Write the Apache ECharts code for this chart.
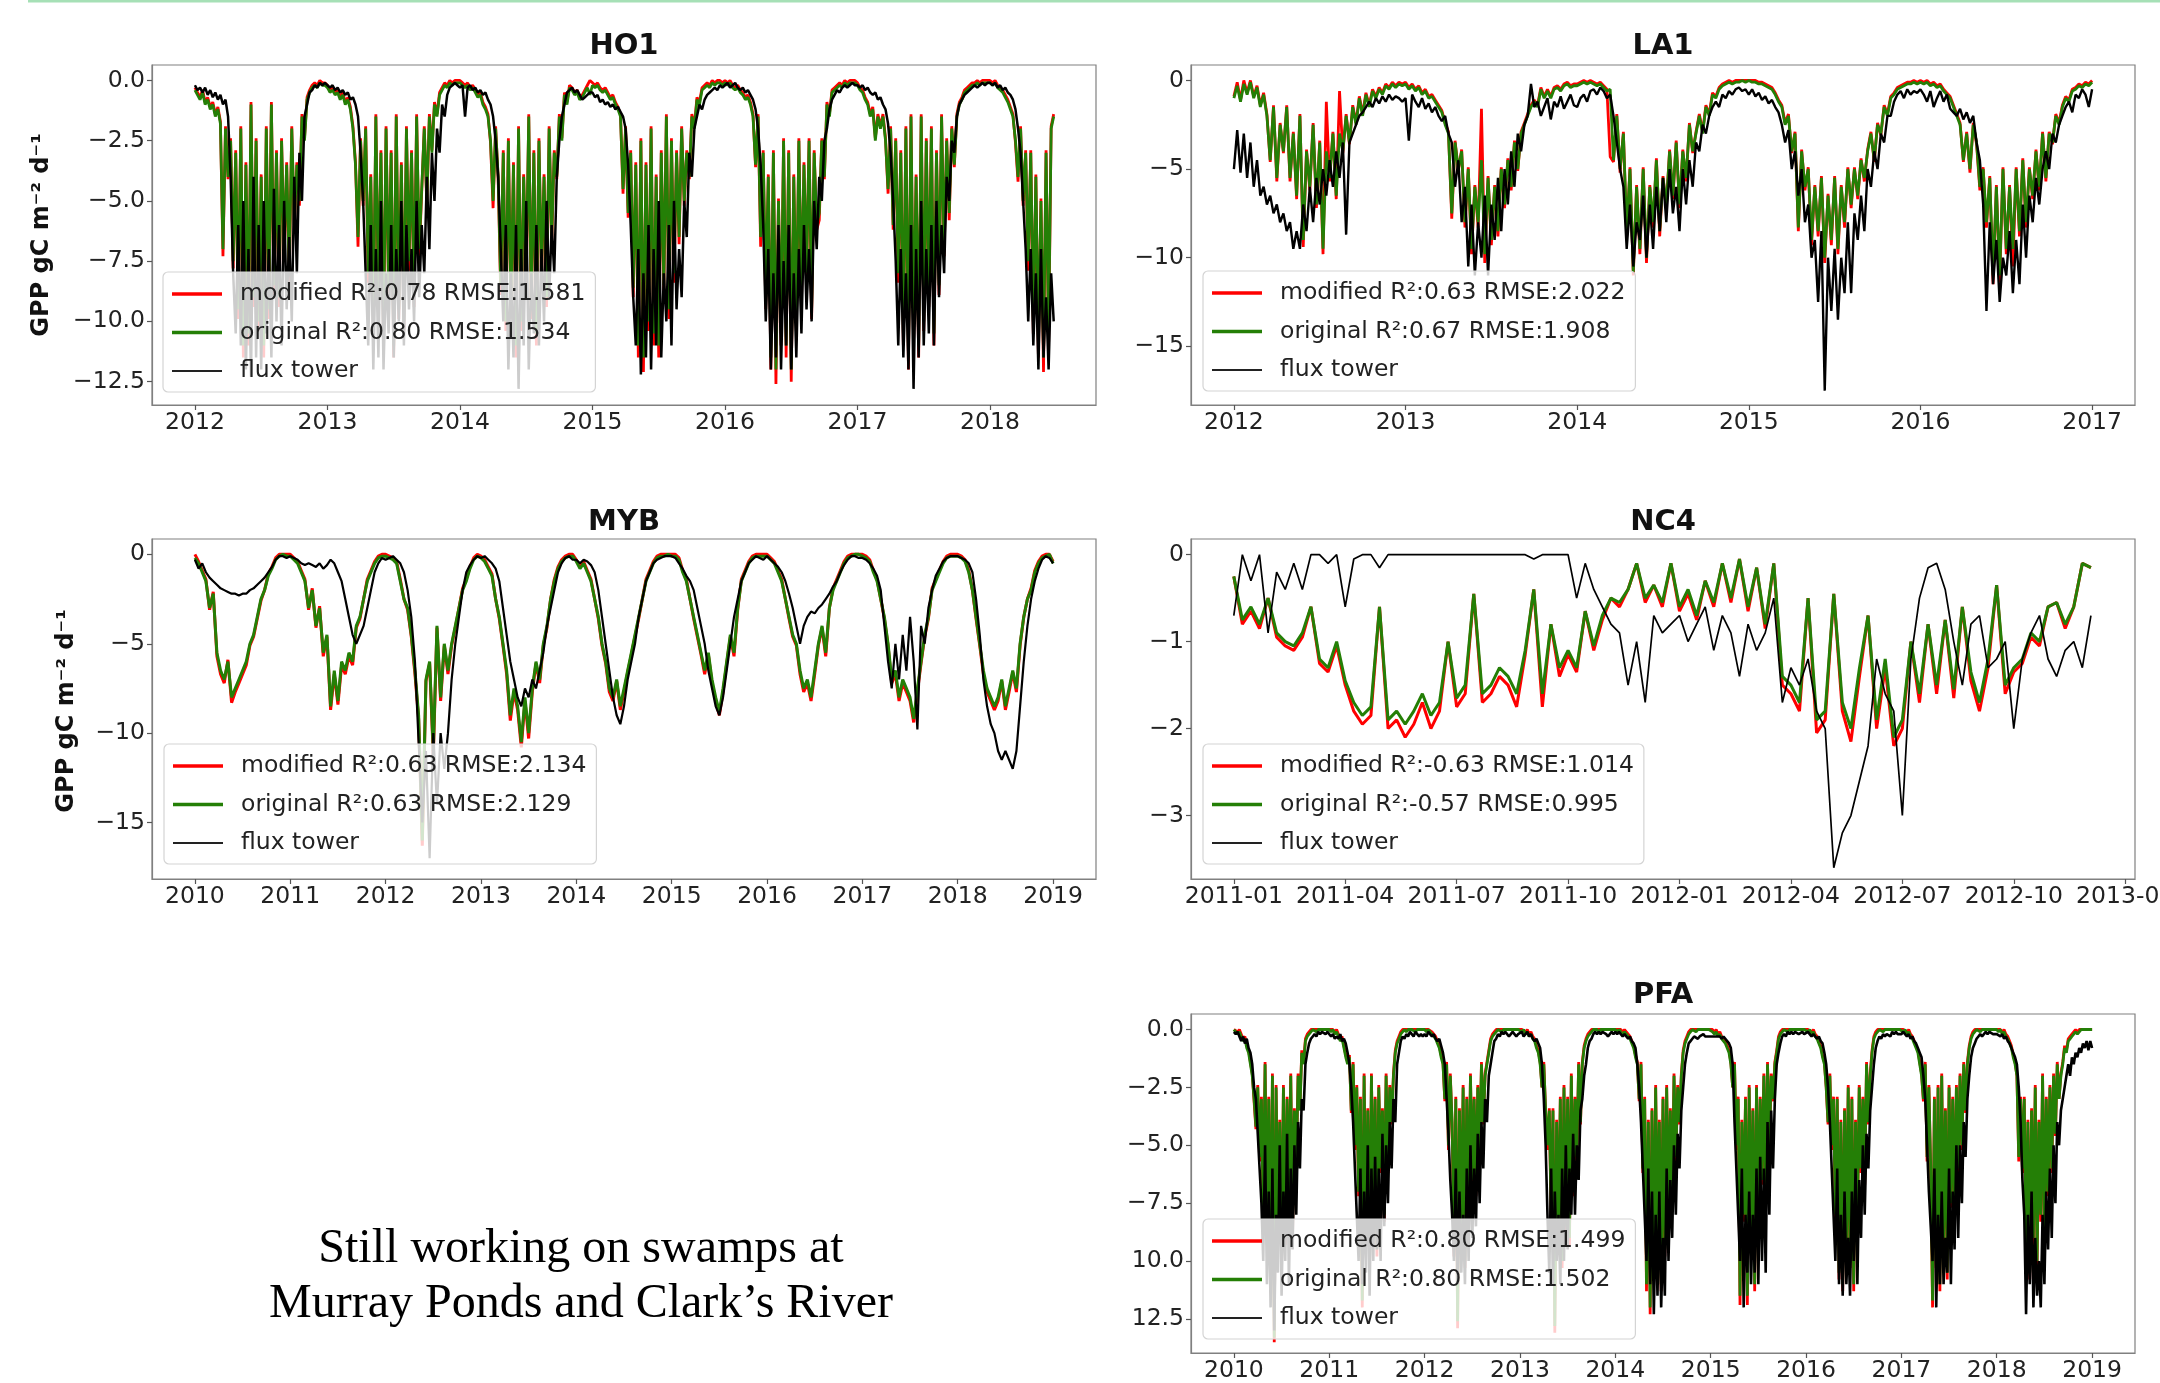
<!DOCTYPE html>
<html>
<head>
<meta charset="utf-8">
<script src="https://cdn.jsdelivr.net/npm/echarts@6/dist/echarts.min.js"></script>
<style>
html,body{margin:0;padding:0;background:#ffffff;}
#chart{width:2160px;height:1383px;}
</style>
</head>
<body>
<div id="chart"></div>
<script>
// ---------------- DATA ----------------
// HO1, LA1, PFA: 52 samples / year (weekly). MYB: 26 / year. NC4: 52 / year.

// ---- HO1 (start 2012.0) ----
const HO1_start = 2012, HO1_perYear = 52;
const HO1_flux = [
 -0.2,-0.4,-0.3,-0.5,-0.3,-0.6,-0.4,-0.7,-0.5,-0.8,-0.6,-1,-0.8,-1.5,-4,-8,-10.5,-6,-11,-5,-12,-7,-12.3,-4,-11.5,-6,-12,-5,-10.5,-7,-11.5,-4.5,-10,-6,-11,-5,-9.5,-6.5,-10,-4,-8,-3,-5,-1.5,-1,-0.5,-0.4,-0.2,-0.3,-0.1,-0.2,-0.1,
 -0.2,-0.3,-0.2,-0.4,-0.3,-0.5,-0.4,-0.6,-0.5,-0.8,-0.7,-1,-1.5,-3,-5,-8,-11,-6,-12,-7,-11.5,-5,-12,-8,-10.5,-6,-11.5,-7,-10,-5,-11,-6,-9.5,-7,-10,-5,-9,-6,-8,-4,-7,-3,-5,-2,-3,-1,-1.5,-0.6,-0.3,-0.2,-0.1,-0.2,
 -0.3,-0.2,-1.5,-0.3,-0.2,-0.4,-0.3,-0.5,-0.4,-0.6,-0.5,-0.8,-1,-1.5,-2.5,-4,-7,-10,-6,-12,-8,-11.5,-6,-12.8,-7,-11,-5,-12,-8,-10.5,-6,-11,-7,-10,-5,-9,-6,-8,-4,-2.5,-1.5,-1,-0.5,-0.4,-0.3,-0.5,-0.4,-0.6,-0.8,-0.7,-0.6,-0.5,
 -0.5,-0.7,-0.6,-0.9,-0.8,-1,-0.9,-1.1,-1,-1.2,-1.1,-1.3,-1.5,-2,-3.5,-6,-9,-11,-7,-12.2,-8,-11.5,-6,-12,-7,-11,-5,-11.5,-8,-10,-6,-11,-5,-9.5,-7,-9,-5,-6.5,-3,-4,-2,-1.5,-1,-1.2,-0.8,-0.6,-0.5,-0.4,-0.3,-0.4,-0.2,-0.3,
 -0.2,-0.1,-0.3,-0.2,-0.1,-0.3,-0.4,-0.3,-0.5,-0.4,-0.6,-0.8,-1.2,-2,-3.5,-6,-10,-7,-12,-8,-11.5,-6,-12,-7.5,-11,-6,-12,-8,-11.5,-7,-10.5,-6,-9.5,-7,-10,-5,-7,-4,-5,-2.5,-2,-1.2,-0.8,-0.6,-0.4,-0.5,-0.3,-0.2,-0.3,-0.2,-0.1,-0.2,
 -0.2,-0.3,-0.2,-0.4,-0.3,-0.5,-0.6,-0.5,-0.8,-0.7,-1,-1.2,-1.8,-3,-5,-7.5,-11,-7,-11.5,-8,-12,-6,-12.8,-7,-11.5,-5,-11,-7,-10.5,-6,-11,-5,-9,-6,-8,-4,-5,-2.5,-3,-1.5,-1,-0.8,-0.6,-0.5,-0.4,-0.3,-0.2,-0.3,-0.2,-0.1,-0.2,-0.1,
 -0.1,-0.2,-0.1,-0.3,-0.2,-0.4,-0.3,-0.5,-0.6,-0.8,-1.2,-2,-3,-5,-7,-10,-7,-11,-8,-12,-7,-11.5,-9,-12,-8,-10
];
const HO1_orig = [
 -0.4,-0.6,-0.8,-0.5,-1,-0.8,-1.2,-1,-1.5,-1.2,-1.8,-7,-2,-4,-2.5,-7.5,-3,-9.5,-2,-11,-3.5,-10.5,-1,-9,-2.5,-10,-4,-11,-2,-9.5,-1,-8.5,-3,-9,-2.5,-7,-3.5,-8,-2,-6,-3.5,-5,-1.5,-2.5,-0.8,-0.5,-0.3,-0.2,-0.3,-0.1,-0.2,-0.2,
 -0.3,-0.5,-0.4,-0.6,-0.5,-0.8,-0.6,-1,-0.8,-1.2,-2,-3.5,-6.5,-2.5,-5,-2,-8,-4,-10,-1.5,-9,-3,-10.5,-2,-8.5,-3,-11,-1.5,-9.5,-3.5,-10,-2,-7.5,-3,-9,-1.5,-7,-4.5,-2,-5,-1.5,-3,-1,-1.5,-0.6,-0.4,-0.2,-0.3,-0.1,-0.2,-0.1,-0.1,
 -0.1,-0.2,-0.3,-0.2,-0.4,-0.3,-0.5,-0.7,-0.6,-1,-1.2,-1.5,-2.5,-5,-2,-4,-8.5,-3,-10,-2.5,-9.5,-3.5,-11,-2,-10,-4,-8,-1.5,-9.5,-3,-10.5,-2.5,-8,-4,-9,-2,-6.5,-3,-4,-1.5,-2.5,-0.6,-1,-0.3,-0.4,-0.6,-0.5,-0.8,-0.7,-0.5,-0.3,-0.6,
 -0.2,-0.3,-0.2,-0.4,-0.5,-0.4,-0.6,-0.8,-0.7,-1,-1.2,-1.5,-4.5,-2,-5.5,-3,-8.6,-3.5,-11,-2.5,-11.5,-3.5,-10,-2,-10.5,-4,-11,-3,-8.5,-1.5,-9.5,-2.5,-8,-3,-6.5,-2,-5,-3,-4,-1.5,-2,-0.8,-1,-0.4,-0.3,-0.2,-0.3,-0.1,-0.2,-0.1,-0.1,-0.2,
 -0.1,-0.2,-0.1,-0.3,-0.4,-0.3,-0.5,-0.6,-0.8,-0.7,-1,-1.5,-3.5,-1.5,-6.5,-3,-9,-4,-11.5,-3,-12,-5,-10.5,-2.5,-11,-3,-12,-4,-10,-2.5,-9,-3.5,-8,-2.5,-9.5,-3,-6,-5.5,-2.5,-4,-1,-1.5,-0.5,-0.4,-0.3,-0.2,-0.3,-0.1,-0.2,-0.1,-0.1,-0.1,
 -0.2,-0.4,-0.5,-0.8,-1,-1.5,-1.2,-2.5,-1.5,-2,-1.5,-2.5,-4.5,-2,-6,-2.5,-8,-3,-10.5,-2,-11.5,-1.5,-10.5,-4,-11,-1.5,-10,-2.5,-9,-2,-10.5,-3,-8.5,-1.5,-7,-2.5,-5.5,-2,-3.5,-1.5,-1,-0.8,-0.5,-0.4,-0.3,-0.2,-0.2,-0.1,-0.2,-0.1,-0.1,-0.1,
 -0.1,-0.2,-0.1,-0.3,-0.4,-0.5,-0.7,-0.9,-1.2,-1.5,-2.5,-4,-2,-5,-3,-7.5,-3,-10,-4,-11,-5,-11.5,-3,-10.5,-2,-1.5
];
const HO1_mod = [
 -0.3,-0.5,-0.7,-0.4,-0.9,-0.7,-1.1,-0.9,-1.4,-1.1,-1.7,-7.3,-1.9,-4.1,-2.4,-7.8,-2.9,-9.9,-1.9,-11.5,-3.4,-11,-0.9,-9.4,-2.4,-10.4,-3.9,-11.5,-1.9,-9.9,-0.9,-8.9,-2.9,-9.4,-2.4,-7.4,-3.4,-8.4,-1.9,-6.2,-3.4,-5.2,-1.4,-2.4,-0.7,-0.4,-0.2,-0.1,-0.2,0,-0.1,-0.1,
 -0.2,-0.4,-0.3,-0.5,-0.4,-0.7,-0.5,-0.9,-0.7,-1.1,-1.9,-3.4,-6.9,-2.4,-5.2,-1.9,-8.4,-3.9,-10.4,-1.4,-9.4,-2.9,-11,-1.9,-8.9,-2.9,-11.5,-1.4,-9.9,-3.4,-10.4,-1.9,-7.9,-2.9,-9.4,-1.4,-7.3,-4.6,-1.9,-5.2,-1.4,-2.9,-0.9,-1.4,-0.5,-0.3,-0.1,-0.2,0,-0.1,0,0,
 0,-0.1,-0.2,-0.1,-0.3,-0.2,-0.4,-0.6,-0.5,-0.9,-1.1,-1.4,-2.6,-5.3,-1.9,-4.1,-8.9,-2.9,-10.4,-2.4,-9.9,-3.4,-11.5,-1.9,-10.4,-3.9,-8.4,-1.4,-9.9,-2.9,-11,-2.4,-8.4,-3.9,-9.4,-1.9,-6.8,-2.9,-4.1,-1.4,-2.4,-0.5,-0.9,-0.2,-0.3,-0.5,-0.4,-0.7,-0.6,-0.4,-0.2,0,
 -0.1,-0.2,-0.1,-0.3,-0.4,-0.3,-0.5,-0.7,-0.6,-0.9,-1.1,-1.4,-4.7,-1.9,-5.7,-2.9,-9,-3.4,-11.5,-2.4,-12.1,-3.4,-10.4,-1.9,-11,-3.9,-11.5,-2.9,-8.9,-1.4,-9.9,-2.4,-8.4,-2.9,-6.8,-1.9,-5.2,-2.9,-4.1,-1.4,-1.9,-0.7,-0.9,-0.3,-0.2,-0.1,-0.2,0,-0.1,0,0,-0.1,
 0,-0.1,0,-0.2,-0.3,-0.2,-0.4,-0.5,-0.7,-0.6,-0.9,-1.4,-3.6,-1.4,-6.9,-2.9,-9.5,-3.9,-12,-2.9,-12.6,-4.9,-11,-2.4,-11.5,-2.9,-12.5,-3.9,-10.4,-2.4,-9.4,-3.4,-8.4,-2.4,-9.9,-2.9,-6.2,-5.8,-2.4,-4.1,-0.9,-1.4,-0.4,-0.3,-0.2,-0.1,-0.2,0,-0.1,0,0,0,
 -0.1,-0.3,-0.4,-0.7,-0.9,-1.4,-1.1,-2.4,-1.4,-1.9,-1.4,-2.4,-4.7,-1.9,-6.2,-2.4,-8.4,-2.9,-11,-1.9,-12,-1.4,-11,-3.9,-11.5,-1.4,-10.4,-2.4,-9.4,-1.9,-11,-2.9,-8.9,-1.4,-7.3,-2.4,-5.8,-1.9,-3.6,-1.4,-0.9,-0.7,-0.4,-0.3,-0.2,-0.1,-0.1,0,-0.1,0,0,0,
 0,-0.1,0,-0.2,-0.3,-0.4,-0.6,-0.8,-1.1,-1.4,-2.6,-4.2,-1.9,-5.2,-2.9,-7.9,-2.9,-10.5,-3.9,-11.5,-4.9,-12.1,-2.9,-11,-1.9,-1.4
];
const HO1_xTicks = [2012,2013,2014,2015,2016,2017,2018];
const HO1_xLabels = ['2012','2013','2014','2015','2016','2017','2018'];
const HO1_yTicks = [0,-2.5,-5,-7.5,-10,-12.5];
const HO1_yLabels = ['0.0','\u22122.5','\u22125.0','\u22127.5','\u221210.0','\u221212.5'];

// ---- LA1 (start 2012.0) ----
const LA1_start = 2012, LA1_perYear = 52;
const LA1_flux = [
 -5,-2.8,-5.2,-3,-5.5,-3.5,-6,-4.5,-6.5,-6,-7,-6.5,-7.5,-7,-8,-7.5,-8.5,-8,-9.5,-8.5,-9.5,-7,-8.5,-6,-8,-5.5,-7,-5,-6.5,-4.5,-6,-4,-5.5,-3.5,-8.7,-3.5,-3,-2.5,-2,-1.8,-1.5,-1.2,-1.5,-1,-1.3,-0.9,-1.2,-0.8,-1.1,-0.9,-1,-1.2,
 -1,-3.4,-0.8,-1.2,-1.5,-1,-1.6,-1.3,-1.8,-1.5,-2,-2.3,-2,-3,-3.5,-6,-4.5,-8,-6,-10.5,-7,-11,-8,-10,-6.5,-11,-7,-9,-5.5,-8.5,-5,-7,-4,-6,-3,-4,-2.5,-2,-0.2,-1.5,-1.2,-2,-1.5,-1,-2.2,-1.2,-1.5,-0.9,-1.6,-1.2,-0.8,-1.4,
 -1.5,-1,-0.8,-1.2,-0.6,-0.5,-0.8,-0.4,-0.6,-1,-0.8,-2,-3.5,-5,-6,-9.5,-7,-10.5,-8,-9,-6.5,-10,-7,-9.5,-6,-8.5,-5.5,-8,-5,-7.5,-6,-8.5,-5,-7,-4.5,-6,-3.5,-4,-2.5,-3,-2,-1.5,-1.2,-1.5,-0.8,-1,-0.6,-0.8,-0.5,-0.4,-0.6,-0.5,
 -0.8,-0.5,-0.9,-0.7,-1.1,-0.9,-1.3,-1.1,-1.5,-1.8,-2.5,-3.5,-2.8,-5,-4,-6.5,-5,-8,-7,-10,-9,-12.5,-8.5,-17.5,-10,-13,-9.5,-13.5,-10,-12,-8,-12,-7.5,-9,-6.5,-8.5,-5,-6,-4,-5,-3,-3.5,-2,-2,-1.2,-0.8,-0.6,-1,-0.5,-0.8,-0.6,-0.7,
 -0.5,-0.8,-1.2,-0.6,-1.5,-1,-0.6,-1.2,-0.8,-1.6,-1.8,-2,-1.6,-2.2,-1.8,-2.4,-2,-3.5,-4.5,-7,-13,-8,-11.5,-9,-12.5,-10,-11,-8.5,-12,-9,-11.5,-7,-10,-6.5,-8,-5.5,-7,-5,-4,-5,-3,-3.5,-2.5,-2,-1.5,-1.2,-1.8,-0.8,-1,-0.5,-0.8,-1.5,
 -0.5
];
const LA1_orig = [
 -1,-0.3,-1.2,-0.2,-0.8,-0.1,-1,-0.4,-1.5,-0.8,-2,-4.5,-1.5,-5.5,-2.5,-4,-1.5,-5.5,-3,-6.5,-2,-9,-4,-6,-2.5,-7,-3.5,-9.5,-4,-5.5,-3,-6.5,-3,-4,-2,-3.5,-1.5,-2.5,-1,-2,-0.8,-1.5,-0.6,-1,-0.5,-0.8,-0.3,-0.5,-0.2,-0.4,-0.2,-0.3,
 -0.2,-0.5,-0.3,-0.6,-0.4,-0.8,-0.6,-1,-0.9,-1.2,-1.5,-1.8,-2.5,-3,-7.5,-3.5,-5,-4,-8,-5,-9.5,-6,-8,-4.5,-9.8,-5.5,-9,-6,-8.5,-5,-7,-4.5,-6,-3.5,-5,-3,-2.5,-2,-1.5,-1.2,-1.5,-0.5,-1,-0.6,-1,-0.5,-0.4,-0.6,-0.3,-0.2,-0.4,-0.3,
 -0.3,-0.2,-0.1,-0.2,-0.1,-0.2,-0.3,-0.2,-0.4,-0.6,-0.5,-4.5,-2,-5,-3,-8.5,-5,-10.8,-6,-9.5,-5,-10,-6,-8,-4.5,-8.5,-5.5,-7,-4,-6.5,-3.5,-7,-4,-5.5,-2.5,-4,-3,-2,-3,-1.5,-2,-0.8,-1,-0.5,-0.3,-0.2,-0.1,-0.2,-0.1,-0.1,0,-0.1,
 0,-0.1,-0.1,-0.2,-0.2,-0.3,-0.4,-0.5,-0.8,-1.2,-1.5,-2.5,-2,-4,-3,-8.3,-4,-6,-5,-9,-6,-8.5,-5.5,-10,-6.5,-9,-5.5,-9.5,-6,-8,-5,-7,-5,-6.5,-4.5,-5.5,-4,-3,-4.5,-2.5,-3,-1.5,-2,-1,-0.8,-0.5,-0.4,-0.3,-0.2,-0.2,-0.1,-0.2,
 -0.1,-0.2,-0.1,-0.3,-0.2,-0.4,-0.3,-0.6,-0.8,-1,-1.5,-2,-2.5,-4.5,-3,-5,-2.5,-3.5,-6,-5,-8,-5.5,-11,-6,-11,-5,-9.5,-6,-9.5,-5,-8.5,-4.5,-8,-5,-6.5,-4,-6,-3,-5.5,-3,-3.5,-2,-2.5,-1.5,-1,-1.2,-0.6,-0.5,-0.3,-0.4,-0.2,-0.3,
 -0.1
];
const LA1_mod = [
 -0.9,-0.1,-1.1,0,-0.7,0,-0.9,-0.3,-1.4,-0.7,-1.9,-4.6,-1.4,-5.7,-2.4,-4.1,-1.4,-5.7,-2.9,-6.7,-1.9,-9.4,-3.9,-6.2,-2.4,-7.2,-3.4,-9.8,-1.2,-5.7,-2.9,-6.7,-0.6,-4.1,-1.9,-3.6,-1.4,-2.4,-0.9,-1.9,-0.7,-1.4,-0.5,-0.9,-0.4,-0.7,-0.2,-0.4,-0.1,-0.3,-0.1,-0.2,
 -0.1,-0.4,-0.2,-0.5,-0.3,-0.7,-0.5,-0.9,-0.8,-1.1,-1.4,-1.7,-2.4,-2.9,-7.8,-3.4,-5.1,-3.9,-8.3,-4.9,-9.8,-5.9,-8.3,-1.6,-10.3,-5.4,-9.3,-5.9,-8.8,-4.9,-7.2,-4.4,-6.2,-3.4,-5.1,-2.9,-2.4,-1.9,-1.4,-1.1,-1.4,-0.4,-0.9,-0.5,-0.9,-0.4,-0.3,-0.5,-0.2,-0.1,-0.3,-0.2,
 -0.2,-0.1,0,-0.1,0,-0.1,-0.2,-0.1,-0.3,-0.5,-4.3,-4.6,-1.9,-5.2,-2.9,-8.8,-4.9,-11,-5.9,-9.8,-4.9,-10.3,-5.9,-8.3,-4.4,-8.8,-5.4,-7.2,-3.9,-6.7,-3.4,-7.2,-3.9,-5.7,-2.4,-4.1,-2.9,-1.9,-2.9,-1.4,-1.9,-0.7,-0.9,-0.4,-0.2,-0.1,0,-0.1,0,0,0,0,
 0,0,0,-0.1,-0.1,-0.2,-0.3,-0.4,-0.7,-1.1,-1.4,-2.4,-1.9,-4.1,-2.9,-8.5,-3.9,-6.2,-4.9,-9.3,-5.9,-8.8,-5.4,-10.3,-6.4,-9.3,-5.4,-9.8,-5.9,-8.3,-4.9,-7.2,-4.9,-6.7,-4.4,-5.7,-3.9,-2.9,-4.6,-2.4,-3.1,-1.4,-1.9,-0.9,-0.7,-0.4,-0.3,-0.2,-0.1,-0.1,0,-0.1,
 0,-0.1,0,-0.2,-0.1,-0.3,-0.2,-0.5,-0.7,-0.9,-1.4,-1.9,-2.4,-4.6,-2.9,-5.2,-2.4,-3.6,-6.2,-4.9,-8.3,-5.4,-11.5,-5.9,-11.4,-4.9,-9.8,-5.9,-10.5,-4.9,-8.8,-4.4,-8.3,-4.9,-6.7,-3.9,-6.2,-2.9,-5.7,-2.9,-3.6,-1.9,-2.4,-1.4,-0.9,-1.1,-0.5,-0.4,-0.2,-0.3,-0.1,-0.2,
 0
];
const LA1_xTicks = [2012,2013,2014,2015,2016,2017];
const LA1_xLabels = ['2012','2013','2014','2015','2016','2017'];
const LA1_yTicks = [0,-5,-10,-15];
const LA1_yLabels = ['0','\u22125','\u221210','\u221215'];

// ---- MYB (start 2010.0, 26 samples / year) ----
const MYB_start = 2010, MYB_perYear = 26;
const MYB_flux = [
 -0.3,-0.8,-0.5,-1,-1.3,-1.5,-1.7,-1.9,-2,-2.1,-2.2,-2.2,-2.3,-2.2,-2.2,-2,-1.9,-1.7,-1.5,-1.3,-1,-0.7,-0.3,-0.1,-0.1,-0.2,
 -0.1,-0.2,-0.3,-0.5,-0.6,-0.5,-0.6,-0.7,-0.5,-0.8,-0.6,-0.3,-0.5,-1,-1.5,-2.5,-3.5,-4.5,-5,-4.5,-4,-3,-2,-1,-0.5,-0.2,
 -0.3,-0.2,-0.1,-0.3,-0.5,-1,-2,-3.5,-6,-10.5,-15,-11,-17,-10,-14,-10,-12,-10,-7,-5,-3.5,-2,-1,-0.6,-0.3,-0.1,
 -0.2,-0.1,-0.3,-0.5,-0.8,-1.5,-3,-4.5,-6,-7,-8,-8.5,-7.5,-8,-7,-7.5,-6.5,-5.5,-4,-3,-2,-1,-0.5,-0.2,-0.1,-0.3,
 -0.3,-0.5,-0.3,-0.4,-0.6,-1,-2,-3.5,-5,-6.5,-8,-9,-9.5,-8.5,-7,-6,-5,-3.5,-2.5,-1.5,-1,-0.5,-0.3,-0.2,-0.1,-0.1,
 -0.1,-0.2,-0.5,-0.8,-1.2,-1.5,-2,-3,-4,-5,-6.5,-7.5,-8.5,-9,-8,-6.5,-5,-3.5,-2.5,-1.5,-1,-0.5,-0.3,-0.1,-0.2,-0.3,
 -0.1,-0.3,-0.5,-0.7,-1,-1.5,-2.2,-3,-4,-5,-4,-3.5,-3.2,-3.3,-3,-2.8,-2.5,-2.2,-1.8,-1.5,-1,-0.6,-0.3,-0.1,-0.1,-0.2,
 -0.2,-0.3,-0.5,-0.8,-1.2,-2,-4,-6,-7.5,-5,-7,-4.5,-6.5,-3.5,-6,-9.8,-4,-5,-3,-2,-1.2,-0.8,-0.4,-0.2,-0.1,-0.1,
 -0.1,-0.2,-0.3,-0.5,-1,-2.5,-4.5,-7,-8.5,-9.5,-10,-11,-11.5,-11,-11.5,-12,-11,-8.5,-6,-4,-2.5,-1.5,-0.8,-0.3,-0.1,-0.2,
 -0.5
];
const MYB_orig = [
 -0.2,-0.5,-1,-1.5,-3,-2.2,-5.5,-6.5,-7,-6,-8,-7.5,-7,-6.5,-6,-5,-4.5,-3.5,-2.5,-2,-1.2,-0.8,-0.3,-0.1,0,-0.1,
 -0.1,-0.3,-0.5,-1,-1.5,-3,-2,-4,-3,-5.5,-4.5,-8.5,-6.5,-8.2,-6,-6.5,-5.5,-6,-4,-3.5,-2.5,-1.5,-1,-0.5,-0.2,-0.1,
 -0.1,-0.2,-0.3,-0.5,-1.5,-2.5,-3,-4.5,-6.5,-9,-16,-7,-6,-11,-4,-8,-5,-6.5,-5,-4,-3,-2,-1.5,-0.8,-0.3,-0.1,
 -0.2,-0.4,-0.8,-1.2,-2.5,-3.5,-5,-6.5,-9,-7.5,-8.5,-10.5,-8,-10,-7.5,-6,-7,-5,-4,-2.5,-1.5,-0.8,-0.4,-0.2,-0.1,-0.1,
 -0.4,-0.8,-0.5,-1,-1.5,-2.5,-3.5,-5,-6,-7.5,-8,-7,-8.5,-7.5,-6.5,-5.5,-4.5,-3.5,-2.5,-1.5,-1,-0.5,-0.2,-0.1,-0.1,0,
 -0.1,-0.1,-0.3,-1,-1.5,-2.5,-3.5,-4.5,-5.5,-6.5,-5.5,-7,-8,-8.8,-7.5,-6,-4.5,-5.5,-3,-1.5,-1,-0.5,-0.2,-0.1,-0.1,-0.1,
 -0.1,-0.3,-0.5,-1,-1.5,-2.5,-3.5,-4.5,-5,-6.5,-7.5,-7,-8,-6.5,-5,-4,-5.5,-3,-2,-1.5,-1,-0.5,-0.2,-0.1,0,0,
 -0.1,-0.2,-0.4,-1,-1.5,-2.5,-3.5,-5,-7,-6.5,-8,-7,-7.5,-8,-9.2,-7.5,-6,-4.5,-3.5,-2,-1.5,-1,-0.5,-0.2,-0.1,-0.1,
 -0.1,-0.2,-0.4,-1,-2,-3.5,-5,-6.5,-7.5,-8,-8.5,-8,-7,-8.5,-7.5,-6.5,-7.5,-5,-3.5,-2.5,-2,-1,-0.5,-0.2,-0.1,0,
 -0.5
];
const MYB_mod = [
 0,-0.4,-0.9,-1.4,-3.1,-2.1,-5.7,-6.7,-7.2,-5.9,-8.3,-7.7,-7.2,-6.7,-6.2,-5.1,-4.6,-3.6,-2.6,-2,-1.1,-0.7,-0.2,0,0,0,
 0,-0.2,-0.4,-0.9,-1.4,-3.1,-1.9,-4.1,-2.9,-5.7,-4.6,-8.7,-6.7,-8.4,-6.2,-6.7,-5.7,-6.2,-4.1,-3.6,-2.5,-1.4,-0.9,-0.4,-0.1,0,
 0,-0.1,-0.2,-0.4,-1.4,-2.5,-3.1,-4.6,-6.7,-9.2,-16.3,-7.1,-6.1,-11.3,-4.1,-8.2,-5.1,-6.7,-5.1,-4.1,-3,-1.9,-1.4,-0.7,-0.2,0,
 -0.1,-0.3,-0.7,-1.1,-2.5,-3.6,-5.1,-6.7,-9.3,-7.7,-8.7,-10.8,-8.2,-10.3,-7.7,-6.1,-7.2,-5.1,-4.1,-2.5,-1.4,-0.7,-0.3,-0.1,0,0,
 -0.3,-0.7,-0.4,-0.9,-1.4,-2.5,-3.6,-5.1,-6.1,-7.7,-8.2,-7.1,-8.7,-7.7,-6.6,-5.6,-4.6,-3.6,-2.5,-1.4,-0.9,-0.4,-0.1,0,0,0,
 0,0,-0.2,-0.9,-1.4,-2.5,-3.6,-4.6,-5.6,-6.7,-5.6,-7.2,-8.2,-9,-7.7,-6.1,-4.6,-5.7,-3.1,-1.4,-0.9,-0.4,-0.1,0,0,0,
 0,-0.2,-0.4,-0.9,-1.4,-2.5,-3.6,-4.6,-5.1,-6.7,-7.7,-7.2,-8.2,-6.7,-5.1,-4.1,-5.7,-3,-1.9,-1.4,-0.9,-0.4,-0.1,0,0,0,
 0,-0.1,-0.3,-0.9,-1.4,-2.5,-3.6,-5.1,-7.2,-6.7,-8.2,-7.2,-7.7,-8.2,-9.4,-7.7,-6.1,-4.6,-3.6,-1.9,-1.4,-0.9,-0.4,-0.1,0,0,
 0,-0.1,-0.3,-0.9,-2,-3.6,-5.1,-6.7,-7.7,-8.2,-8.7,-8.2,-7.1,-8.7,-7.7,-6.6,-7.7,-5.1,-3.5,-2.5,-1.9,-0.9,-0.4,-0.1,0,0,
 -0.4
];
const MYB_xTicks = [2010,2011,2012,2013,2014,2015,2016,2017,2018,2019];
const MYB_xLabels = ['2010','2011','2012','2013','2014','2015','2016','2017','2018','2019'];
const MYB_yTicks = [0,-5,-10,-15];
const MYB_yLabels = ['0','\u22125','\u221210','\u221215'];

// ---- NC4 (start 2011.0, 52 samples / year) ----
const NC4_start = 2011, NC4_perYear = 52;
const NC4_flux = [
 -0.7,0,-0.3,0,-0.9,-0.2,-0.4,-0.1,-0.4,0,
 0,-0.1,0,-0.6,-0.05,0,0,-0.15,0,0,
 0,0,0,0,0,0,0,0,0,0,
 0,0,0,0,0,-0.05,0,0,0,0,
 -0.5,-0.1,-0.4,-0.6,-0.8,-0.9,-1.5,-1,-1.7,-0.7,
 -0.9,-0.8,-0.7,-1,-0.8,-0.6,-1.1,-0.7,-0.9,-1.4,
 -0.8,-1.1,-0.9,-0.5,-1.7,-1.3,-1.5,-1.2,-1.8,-2,
 -3.6,-3.2,-3,-2.6,-2.2,-1.2,-1.6,-1.8,-3,-1.2,
 -0.5,-0.15,-0.1,-0.4,-1,-1.5,-0.8,-0.7,-1.3,-1.2,
 -1,-2,-1.2,-0.9,-0.7,-1.2,-1.4,-1.1,-1,-1.3,
 -0.7
];
const NC4_orig = [
 -0.25,-0.75,-0.6,-0.8,-0.5,-0.9,-1,-1.05,-0.9,-0.6,
 -1.2,-1.3,-1,-1.45,-1.7,-1.85,-1.75,-0.6,-1.9,-1.8,
 -1.95,-1.8,-1.6,-1.85,-1.7,-1,-1.65,-1.5,-0.45,-1.6,
 -1.5,-1.3,-1.4,-1.6,-1.1,-0.4,-1.6,-0.8,-1.3,-1.1,
 -1.3,-0.65,-1.05,-0.7,-0.5,-0.55,-0.4,-0.1,-0.5,-0.35,
 -0.55,-0.1,-0.6,-0.4,-0.7,-0.3,-0.55,-0.1,-0.5,-0.05,
 -0.6,-0.15,-0.8,-0.1,-1.4,-1.5,-1.7,-0.5,-1.9,-1.8,
 -0.45,-1.7,-2,-1.3,-0.7,-1.9,-1.2,-2.1,-1.9,-1,
 -1.6,-0.8,-1.5,-0.75,-1.55,-0.6,-1.35,-1.7,-1.2,-0.35,
 -1.5,-1.3,-1.2,-0.9,-1,-0.6,-0.55,-0.8,-0.6,-0.1,
 -0.15
];
const NC4_mod = [
 -0.25,-0.8,-0.65,-0.85,-0.5,-0.95,-1.05,-1.1,-0.95,-0.6,
 -1.25,-1.35,-1.05,-1.5,-1.8,-1.95,-1.85,-0.6,-2,-1.9,
 -2.1,-1.95,-1.7,-2,-1.8,-1,-1.75,-1.6,-0.45,-1.7,
 -1.6,-1.4,-1.5,-1.75,-1.15,-0.4,-1.75,-0.8,-1.4,-1.15,
 -1.35,-0.65,-1.1,-0.75,-0.5,-0.6,-0.4,-0.1,-0.55,-0.35,
 -0.6,-0.1,-0.65,-0.45,-0.75,-0.3,-0.6,-0.1,-0.55,-0.05,
 -0.65,-0.15,-0.85,-0.1,-1.5,-1.6,-1.8,-0.5,-2.05,-1.9,
 -0.45,-1.8,-2.15,-1.4,-0.7,-2,-1.3,-2.2,-2,-1,
 -1.7,-0.8,-1.6,-0.75,-1.65,-0.6,-1.45,-1.8,-1.3,-0.35,
 -1.6,-1.35,-1.25,-0.95,-1.05,-0.6,-0.55,-0.85,-0.6,-0.1,
 -0.15
];
const NC4_xTicks = [2011,2011.25,2011.5,2011.75,2012,2012.25,2012.5,2012.75,2013];
const NC4_xLabels = ['2011-01','2011-04','2011-07','2011-10','2012-01','2012-04','2012-07','2012-10','2013-01'];
const NC4_yTicks = [0,-1,-2,-3];
const NC4_yLabels = ['0','\u22121','\u22122','\u22123'];

// ---- PFA (start 2010.0) ----
const PFA_start = 2010, PFA_perYear = 52;
const PFA_flux = [
 -0.1,-0.2,-0.1,-0.3,-0.5,-0.3,-0.6,-0.4,-0.8,-1,-1.5,-2.5,-3,-4.5,-6,-7.5,-10,-5,-11,-7,-12,-6,-13,-8,-10.5,-5,-11.5,-7,-10,-4.5,-11,-6,-9.5,-5,-8,-4,-6,-3,-3.5,-1.5,-1,-0.6,-0.4,-0.3,-0.2,-0.3,-0.1,-0.2,-0.1,-0.1,-0.2,-0.1,
 -0.1,-0.3,-0.2,-0.4,-0.3,-0.4,-0.2,-0.5,-0.4,-0.6,-1,-1.5,-2.5,-4,-6,-8,-10,-6,-11,-7,-10.5,-5,-11.5,-6,-10,-5.5,-9.5,-6,-10,-4.5,-8.5,-5,-7.5,-4,-6,-3,-4,-1.5,-1,-0.5,-0.3,-0.4,-0.2,-0.3,-0.1,-0.2,-0.3,-0.1,-0.2,-0.3,-0.2,-0.3,
 -0.2,-0.3,-0.1,-0.2,-0.3,-0.2,-0.4,-0.5,-0.4,-0.7,-1,-1.5,-3,-4.5,-6.5,-8,-10,-6,-11,-7,-10.5,-8,-11,-6,-10,-5,-9,-6,-8.5,-4.5,-7.5,-4,-6,-3,-4,-2,-1.5,-1,-0.5,-0.4,-0.2,-0.3,-0.1,-0.2,-0.1,-0.2,-0.3,-0.2,-0.1,-0.2,-0.3,-0.2,
 -0.2,-0.1,-0.3,-0.2,-0.1,-0.3,-0.2,-0.4,-0.5,-0.4,-0.6,-0.8,-1.5,-3,-5,-8,-10.5,-6,-11,-7,-10,-8,-11,-6,-10,-5,-9.5,-6,-8,-4.5,-8,-5,-6.5,-3.5,-3,-2,-1.5,-0.8,-0.5,-0.4,-0.2,-0.1,-0.2,-0.1,-0.2,-0.1,-0.1,-0.2,-0.3,-0.2,-0.1,-0.2,
 -0.1,-0.2,-0.1,-0.2,-0.3,-0.2,-0.3,-0.4,-0.3,-0.5,-0.6,-0.8,-1.5,-2.5,-4,-6,-8,-10,-6,-11,-7,-12.3,-8,-11.5,-7,-12,-9,-11.5,-6,-10,-6.5,-9,-5,-8,-4.5,-6,-3.5,-2.5,-1.5,-1,-0.6,-0.5,-0.4,-0.3,-0.3,-0.4,-0.3,-0.3,-0.2,-0.3,-0.3,-0.3,
 -0.3,-0.3,-0.3,-0.3,-0.3,-0.3,-0.4,-0.3,-0.4,-0.5,-0.6,-0.8,-1.5,-4,-6,-8,-10,-6,-12,-8,-10.5,-7,-11,-8,-10.5,-6,-11,-5.5,-10,-6,-10.5,-4,-8,-3.5,-6,-3,-1.5,-1,-0.6,-0.3,-0.2,-0.3,-0.1,-0.2,-0.1,-0.2,-0.1,-0.1,-0.2,-0.2,-0.1,-0.2,
 -0.2,-0.1,-0.2,-0.3,-0.2,-0.3,-0.4,-0.3,-0.5,-0.6,-1,-1.5,-2.5,-4,-6,-8,-10,-6,-11,-8,-11.5,-7,-11,-9,-11.5,-7,-10,-6,-11,-6.5,-9,-5,-8,-4.5,-6,-3.5,-2.5,-1.5,-0.8,-0.5,-0.3,-0.4,-0.2,-0.3,-0.2,-0.2,-0.3,-0.1,-0.2,-0.1,-0.2,-0.2,
 -0.2,-0.1,-0.2,-0.3,-0.2,-0.4,-0.3,-0.5,-0.6,-0.8,-1,-1.2,-2,-3,-5,-7,-8.5,-10,-6,-12,-8,-11,-7,-11,-9,-10.5,-6,-11,-7,-9.5,-5,-9,-5,-7.5,-4,-5.5,-3,-2,-1.2,-0.8,-0.6,-0.4,-0.3,-0.2,-0.3,-0.2,-0.1,-0.2,-0.1,-0.1,-0.2,-0.2,
 -0.2,-0.2,-0.3,-0.2,-0.4,-0.3,-0.5,-0.6,-0.8,-1,-1.2,-1.5,-2.5,-4,-6.5,-8,-12.3,-8,-11,-7,-12,-9,-11.5,-10,-12,-8,-11,-7,-9.5,-6,-9,-5,-7.5,-4,-5,-3.5,-3,-2.5,-2,-1.5,-2,-1.2,-1.5,-1,-1.2,-0.8,-1,-0.6,-0.8,-0.5,-0.9,-0.5,
 -0.8
];
const PFA_orig = [
 0,-0.1,-0.2,-0.1,-0.3,-0.5,-0.4,-0.8,-1,-1.5,-2,-3,-4.2,-2.5,-5.5,-3,-8,-1.5,-9,-3,-11,-2,-13.3,-2.5,-8.5,-4,-10,-2.5,-9,-3,-7.5,-2,-8.5,-3.5,-6,-2,-3.5,-1,-1.5,-0.5,-0.3,-0.2,-0.1,0,0,-0.1,0,0,0,0,0,0,
 0,-0.1,0,-0.2,-0.1,-0.3,-0.5,-0.4,-0.8,-1.2,-1.5,-1.2,-3.5,-1.5,-5,-2.5,-7,-3,-11.7,-2,-9,-3.5,-10,-2,-8,-3,-9.5,-2.5,-6,-3.5,-8,-2,-6,-2.5,-4,-2,-1,-0.6,-0.4,-0.2,-0.1,0,-0.1,0,0,0,0,-0.1,0,0,0,0,
 0,-0.1,0,-0.1,-0.2,-0.3,-0.4,-0.6,-0.8,-1.2,-1.5,-3,-1.5,-5,-2,-4,-9.5,-3,-12.6,-3.5,-9,-2.5,-10,-3,-8,-2,-6.5,-3,-7,-2.5,-5.5,-1.5,-4,-2,-1.5,-1,-0.5,-0.3,-0.2,-0.1,0,0,-0.1,0,0,0,0,0,0,0,0,0,
 0,-0.1,0,-0.2,-0.1,-0.3,-0.2,-0.4,-0.5,-0.8,-1,-1.5,-2.5,-1.5,-3.5,-5,-3.5,-8,-3.5,-12.8,-4,-9,-3,-10,-2.5,-8.5,-3,-9,-2,-7,-3,-5.5,-1.5,-4,-1.5,-0.8,-0.5,-0.3,-0.2,-0.1,0,0,0,-0.1,0,0,0,0,0,0,0,0,
 0,-0.1,0,-0.1,-0.2,-0.1,-0.2,-0.3,-0.4,-0.6,-0.8,-1.2,-1.5,-3,-1.5,-6,-3,-11,-4,-12,-3.5,-10.5,-2.5,-9,-4,-11,-3,-9.5,-2.5,-8,-3.5,-7.5,-2,-5.5,-2.5,-4,-2,-1,-0.6,-0.4,-0.2,-0.1,0,0,-0.1,0,0,0,0,0,0,0,
 0,-0.1,-0.2,-0.1,-0.3,-0.2,-0.4,-0.5,-0.6,-0.8,-1,-1.5,-2.5,-1.5,-5,-3,-11.5,-4,-8,-3,-11.5,-2.5,-9,-3.5,-11,-2.5,-8.5,-3,-6.5,-2,-7,-1.5,-5,-2,-3,-1.5,-1,-0.4,-0.2,-0.1,0,0,-0.1,0,0,0,0,0,0,0,0,0,
 0,-0.1,0,-0.2,-0.1,-0.3,-0.4,-0.6,-0.8,-1.2,-1.5,-2.5,-4,-2,-5,-3,-8,-3,-10.5,-4,-11,-3.5,-9.5,-2.5,-10,-3,-11,-4,-8.5,-2.5,-6,-3,-6.5,-1.5,-4,-2,-1,-0.4,-0.2,-0.1,0,0,-0.1,0,0,0,0,0,0,0,0,0,
 0,-0.1,0,-0.2,-0.1,-0.3,-0.4,-0.6,-0.8,-1,-1.5,-2,-3,-1.5,-5.5,-2.5,-6,-11.7,-3,-10,-2.5,-11,-2,-9,-3.5,-10.5,-2.5,-7.5,-3,-8,-2.5,-6,-2,-5,-1.5,-3.5,-1.5,-0.8,-0.4,-0.2,-0.1,0,0,-0.1,0,0,0,0,0,0,0,0,
 0,-0.1,0,-0.2,-0.1,-0.3,-0.4,-0.6,-0.8,-1.2,-1.5,-2,-5.5,-3,-6,-3,-9.5,-4,-10.5,-3.5,-9,-2.5,-10,-4,-8,-2,-9,-3,-7,-2.5,-6,-2,-4.5,-1.5,-3,-2,-1.5,-0.8,-1,-0.5,-0.4,-0.3,-0.2,-0.1,-0.2,-0.1,0,0,0,0,0,0,
 0
];
const PFA_mod = [
 0,0,-0.1,0,-0.2,-0.4,-0.3,-0.7,-0.9,-1.4,-1.9,-3.1,-4.3,-2.4,-5.7,-2.9,-8.3,-1.4,-9.3,-2.9,-11.4,-1.9,-13.5,-2.4,-8.8,-3.9,-10.3,-2.4,-9.3,-2.9,-7.7,-1.9,-8.8,-3.4,-6.2,-1.9,-3.4,-0.9,-1.4,-0.4,-0.2,-0.1,0,0,0,0,0,0,0,0,0,0,
 0,0,0,-0.1,0,-0.2,-0.4,-0.3,-0.7,-1.1,-1.4,-1.1,-3.6,-1.4,-5.2,-2.4,-7.2,-2.9,-12,-1.9,-9.3,-3.4,-10.3,-1.9,-8.3,-2.9,-9.8,-2.4,-6.2,-3.4,-8.3,-1.9,-6.2,-2.4,-4.1,-1.9,-0.9,-0.5,-0.3,-0.1,0,0,0,0,0,0,0,0,0,0,0,0,
 0,0,0,0,-0.1,-0.2,-0.3,-0.5,-0.7,-1.1,-1.4,-3.1,-1.4,-5.2,-1.9,-4.1,-9.8,-2.9,-12.9,-3.4,-9.3,-2.4,-10.3,-2.9,-8.3,-1.9,-6.7,-2.9,-7.2,-2.4,-5.7,-1.4,-4.1,-1.9,-1.4,-0.9,-0.4,-0.2,-0.1,0,0,0,0,0,0,0,0,0,0,0,0,0,
 0,0,0,-0.1,0,-0.2,-0.1,-0.3,-0.4,-0.7,-0.9,-1.4,-2.5,-1.4,-3.6,-5.2,-3.4,-8.3,-3.4,-13.1,-3.9,-9.3,-2.9,-10.3,-2.4,-8.8,-2.9,-9.3,-1.9,-7.2,-2.9,-5.7,-1.4,-4.1,-1.4,-0.7,-0.4,-0.2,-0.1,0,0,0,0,0,0,0,0,0,0,0,0,0,
 0,0,0,0,-0.1,0,-0.1,-0.2,-0.3,-0.5,-0.7,-1.1,-1.4,-3.1,-1.4,-6.2,-2.9,-11.3,-3.9,-12.3,-3.4,-10.8,-2.4,-9.3,-3.9,-11.3,-2.9,-9.8,-2.4,-8.3,-3.4,-7.7,-1.9,-5.7,-2.4,-4.1,-1.9,-0.9,-0.5,-0.3,-0.1,0,0,0,0,0,0,0,0,0,0,0,
 0,0,-0.1,0,-0.2,-0.1,-0.3,-0.4,-0.5,-0.7,-0.9,-1.4,-2.5,-1.4,-5.2,-2.9,-11.9,-3.9,-8.3,-2.9,-11.9,-2.4,-9.3,-3.4,-11.3,-2.4,-8.8,-2.9,-6.7,-1.9,-7.2,-1.4,-5.2,-1.9,-3.1,-1.4,-0.9,-0.3,-0.1,0,0,0,0,0,0,0,0,0,0,0,0,0,
 0,0,0,-0.1,0,-0.2,-0.3,-0.5,-0.7,-1.1,-1.4,-2.5,-4.1,-1.9,-5.2,-2.9,-8.3,-2.9,-10.8,-3.9,-11.3,-3.4,-9.8,-2.4,-10.3,-2.9,-11.3,-3.9,-8.8,-2.4,-6.2,-2.9,-6.7,-1.4,-4.1,-1.9,-0.9,-0.3,-0.1,0,0,0,0,0,0,0,0,0,0,0,0,0,
 0,0,0,-0.1,0,-0.2,-0.3,-0.5,-0.7,-0.9,-1.4,-1.9,-3.1,-1.4,-5.7,-2.4,-6.2,-12,-2.9,-10.3,-2.4,-11.3,-1.9,-9.3,-3.4,-10.8,-2.4,-7.7,-2.9,-8.3,-2.4,-6.2,-1.9,-5.2,-1.4,-3.6,-1.4,-0.7,-0.3,-0.1,0,0,0,0,0,0,0,0,0,0,0,0,
 0,0,0,-0.1,0,-0.2,-0.3,-0.5,-0.7,-1.1,-1.4,-2,-5.7,-2.9,-6.2,-2.9,-9.8,-3.9,-10.8,-3.4,-9.3,-2.4,-10.3,-3.9,-8.3,-1.9,-9.3,-2.9,-7.2,-2.4,-6.2,-1.9,-4.6,-1.4,-3,-1.9,-1.4,-0.7,-0.9,-0.4,-0.3,-0.2,-0.1,0,-0.1,0,0,0,0,0,0,0,
 0
];
const PFA_xTicks = [2010,2011,2012,2013,2014,2015,2016,2017,2018,2019];
const PFA_xLabels = ['2010','2011','2012','2013','2014','2015','2016','2017','2018','2019'];
const PFA_yTicks = [0,-2.5,-5,-7.5,-10,-12.5];
const PFA_yLabels = ['0.0','\u22122.5','\u22125.0','\u22127.5','10.0','12.5'];

// legend labels
const HO1_names = ['modified R\u00b2:0.78 RMSE:1.581','original R\u00b2:0.80 RMSE:1.534'];
const LA1_names = ['modified R\u00b2:0.63 RMSE:2.022','original R\u00b2:0.67 RMSE:1.908'];
const MYB_names = ['modified R\u00b2:0.63 RMSE:2.134','original R\u00b2:0.63 RMSE:2.129'];
const NC4_names = ['modified R\u00b2:-0.63 RMSE:1.014','original R\u00b2:-0.57 RMSE:0.995'];
const PFA_names = ['modified R\u00b2:0.80 RMSE:1.499','original R\u00b2:0.80 RMSE:1.502'];
const FLUX_NAME = 'flux tower';

// ---------------- LAYOUT ----------------
const FONT = 'DejaVu Sans';
const RED = '#ff0000', GREEN = '#247f06', BLACK = '#000000';

const panels = [
 {title:'HO1', grid:{left:152, top:65, width:944, height:340}, xr:[2011.676, 2018.80], yr:[-13.47, 0.64],
  xT:HO1_xTicks, xL:HO1_xLabels, yT:HO1_yTicks, yL:HO1_yLabels, t0:HO1_start, py:HO1_perYear,
  flux:HO1_flux, orig:HO1_orig, mod:HO1_mod, names:HO1_names, lg:{left:163, top:272}, titleY:32, w:[2.8, 2.8, 2.5]},
 {title:'LA1', grid:{left:1191, top:65, width:944, height:340}, xr:[2011.75, 2017.25], yr:[-18.31, 0.87],
  xT:LA1_xTicks, xL:LA1_xLabels, yT:LA1_yTicks, yL:LA1_yLabels, t0:LA1_start, py:LA1_perYear,
  flux:LA1_flux, orig:LA1_orig, mod:LA1_mod, names:LA1_names, lg:{left:1203, top:271}, titleY:32, w:[2.8, 2.8, 2.4]},
 {title:'MYB', grid:{left:152, top:539, width:944, height:340}, xr:[2009.55, 2019.45], yr:[-18.16, 0.86],
  xT:MYB_xTicks, xL:MYB_xLabels, yT:MYB_yTicks, yL:MYB_yLabels, t0:MYB_start, py:MYB_perYear,
  flux:MYB_flux, orig:MYB_orig, mod:MYB_mod, names:MYB_names, lg:{left:164, top:744}, titleY:508, w:[3, 3, 2.2]},
 {title:'NC4', grid:{left:1191, top:539, width:944, height:340}, xr:[2010.904, 2013.022], yr:[-3.73, 0.18],
  xT:NC4_xTicks, xL:NC4_xLabels, yT:NC4_yTicks, yL:NC4_yLabels, t0:NC4_start, py:NC4_perYear,
  flux:NC4_flux, orig:NC4_orig, mod:NC4_mod, names:NC4_names, lg:{left:1203, top:744}, titleY:508, w:[3, 3, 1.7]},
 {title:'PFA', grid:{left:1191, top:1014, width:944, height:339}, xr:[2009.55, 2019.45], yr:[-13.97, 0.67],
  xT:PFA_xTicks, xL:PFA_xLabels, yT:PFA_yTicks, yL:PFA_yLabels, t0:PFA_start, py:PFA_perYear,
  flux:PFA_flux, orig:PFA_orig, mod:PFA_mod, names:PFA_names, lg:{left:1203, top:1219}, titleY:981, w:[2.8, 2.8, 2.6]}
];

function toXY(vals, t0, perYear) { return vals.map((v, i) => [t0 + i / perYear, v]); }
function labelFor(ticks, labels) {
  return function (v) {
    let best = 0, d = Infinity;
    for (let i = 0; i < ticks.length; i++) { const e = Math.abs(ticks[i] - v); if (e < d) { d = e; best = i; } }
    return labels[best];
  };
}

const grids = [], xAxes = [], yAxes = [], series = [], legends = [], titles = [];
panels.forEach((p, k) => {
  grids.push(Object.assign({show:true, borderColor:'#808080', borderWidth:1.2, backgroundColor:'#fff', outerBoundsMode:'none', containLabel:false}, p.grid));
  xAxes.push({
    gridIndex:k, type:'value', min:p.xr[0], max:p.xr[1],
    axisLine:{show:true, onZero:false, lineStyle:{color:'#808080', width:1.2}},
    axisTick:{show:true, customValues:p.xT, length:5, lineStyle:{color:'#555', width:1.2}},
    axisLabel:{customValues:p.xT, formatter:labelFor(p.xT, p.xL), fontFamily:FONT, fontSize:23.5, color:'#222', margin:6},
    splitLine:{show:false}
  });
  yAxes.push({
    gridIndex:k, type:'value', min:p.yr[0], max:p.yr[1],
    axisLine:{show:true, onZero:false, lineStyle:{color:'#808080', width:1.2}},
    axisTick:{show:true, customValues:p.yT, length:5, lineStyle:{color:'#555', width:1.2}},
    axisLabel:{customValues:p.yT, formatter:labelFor(p.yT, p.yL), fontFamily:FONT, fontSize:23.5, color:'#222', margin:7},
    splitLine:{show:false}
  });
  const common = {type:'line', xAxisIndex:k, yAxisIndex:k, showSymbol:false, symbol:'none', silent:true, animation:false, clip:true};
  series.push(Object.assign({}, common, {name:p.names[0], color:RED, lineStyle:{color:RED, width:p.w[0]}, data:toXY(p.mod, p.t0, p.py), z:2}));
  series.push(Object.assign({}, common, {name:p.names[1], color:GREEN, lineStyle:{color:GREEN, width:p.w[1]}, data:toXY(p.orig, p.t0, p.py), z:2}));
  series.push(Object.assign({}, common, {name:FLUX_NAME, color:BLACK, lineStyle:{color:BLACK, width:p.w[2]}, data:toXY(p.flux, p.t0, p.py), z:2}));
  legends.push({
    left:p.lg.left, top:p.lg.top, orient:'vertical', selectedMode:false,
    itemWidth:50, itemHeight:3.5, itemGap:12.5, padding:[9,10,8,9],
    backgroundColor:'rgba(255,255,255,0.8)', borderColor:'#d4d4d4', borderWidth:1.2, borderRadius:5,
    textStyle:{fontFamily:FONT, fontSize:23.5, color:'#222', lineHeight:26, padding:[0,0,0,13]},
    data:[
      {name:p.names[0], icon:'path://M0,0H50V3.5H0Z'},
      {name:p.names[1], icon:'path://M0,0H50V3.5H0Z'},
      {name:FLUX_NAME, icon:'path://M0,0H50V2H0Z', itemStyle:{color:'#222'}}
    ],
    z:10
  });
  titles.push({
    text:p.title, left:p.grid.left + p.grid.width / 2, top:p.titleY, textAlign:'center', padding:0,
    textStyle:{fontFamily:FONT, fontSize:29, fontWeight:'bold', color:'#111', lineHeight:29}
  });
});

const chart = echarts.init(document.getElementById('chart'), null, {renderer:'canvas', width:2160, height:1383});
chart.setOption({
  animation:false,
  backgroundColor:'#ffffff',
  textStyle:{fontFamily:FONT},
  title:titles,
  grid:grids, xAxis:xAxes, yAxis:yAxes, series:series, legend:legends,
  graphic:[
    {type:'rect', left:28, top:0, shape:{width:2132, height:2.5}, style:{fill:'#a6e0b6'}, silent:true},
    {type:'text', x:42, y:235, rotation:Math.PI/2, silent:true,
     style:{text:'GPP gC m\u207b\u00b2 d\u207b\u00b9', font:'bold 24px "DejaVu Sans"', fill:'#111', align:'center', verticalAlign:'middle'}},
    {type:'text', x:67, y:711, rotation:Math.PI/2, silent:true,
     style:{text:'GPP gC m\u207b\u00b2 d\u207b\u00b9', font:'bold 24px "DejaVu Sans"', fill:'#111', align:'center', verticalAlign:'middle'}},
    {type:'text', x:581, y:1249, silent:true,
     style:{text:'Still working on swamps at', font:'48px "Liberation Serif"', fill:'#000', align:'center', verticalAlign:'middle'}},
    {type:'text', x:581, y:1304, silent:true,
     style:{text:'Murray Ponds and Clark\u2019s River', font:'48px "Liberation Serif"', fill:'#000', align:'center', verticalAlign:'middle'}}
  ]
});
</script>
</body>
</html>
